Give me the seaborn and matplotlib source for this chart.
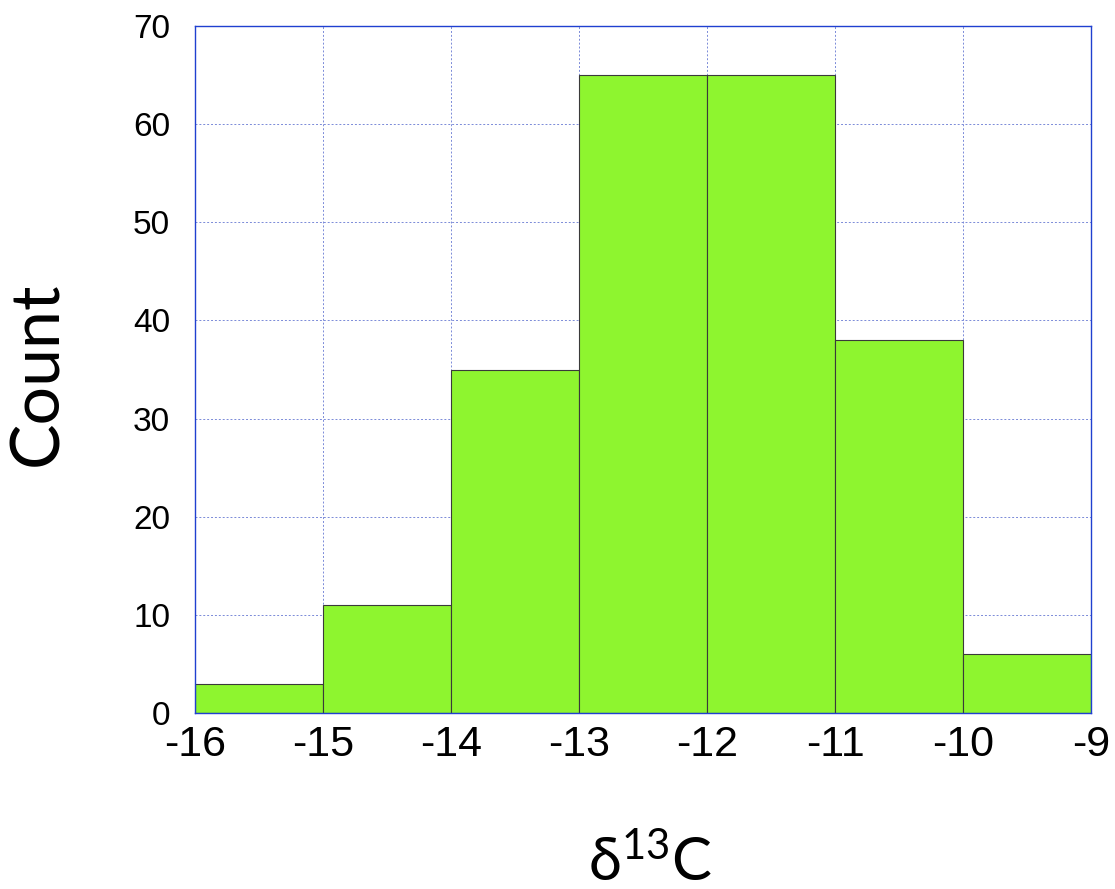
import matplotlib
matplotlib.use("Agg")
import matplotlib.pyplot as plt
import seaborn as sns
import numpy as np

bin_edges = [-16, -15, -14, -13, -12, -11, -10, -9]
bin_centers = [-15.5, -14.5, -13.5, -12.5, -11.5, -10.5, -9.5]
counts = [3, 11, 35, 65, 65, 38, 6]
y_ticks = [0, 10, 20, 30, 40, 50, 60, 70]

sns.set_style("white")
plt.rcParams['font.family'] = ['Liberation Sans', 'DejaVu Sans']
plt.rcParams['mathtext.fontset'] = 'custom'
plt.rcParams['mathtext.rm'] = 'Lato'
plt.rcParams['mathtext.it'] = 'Lato'
plt.rcParams['mathtext.default'] = 'rm'

W, H = 1115, 889
fig = plt.figure(figsize=(W/100, H/100), dpi=100)
ax = fig.add_axes([195/W, 1-713/H, (1091-195)/W, (713-26)/H])

sns.histplot(x=bin_centers, weights=counts, bins=bin_edges, ax=ax,
             color="#8ef52f", alpha=1.0, edgecolor="#3a3a3a", linewidth=0.8)

ax.set_xlim(-16, -9)
ax.set_ylim(0, 70)
ax.set_xticks(bin_edges)
ax.set_xticklabels([str(v) for v in bin_edges], fontsize=31, color="black")
ax.set_yticks(y_ticks)
ax.set_yticklabels([str(v) for v in y_ticks], fontsize=24, color="black")
ax.tick_params(axis='y', length=0, pad=18)
ax.tick_params(axis='x', length=0, pad=9)
ax.grid(True, color="#7a8ad8", linestyle=(0, (2, 2)), linewidth=0.7)
ax.set_axisbelow(True)
for s in ax.spines.values():
    s.set_color("#2040d0")
    s.set_linewidth(1.0)

ax.set_ylabel("")
ax.set_xlabel("")
fig.text(38/W, 1-374/H, "Count", fontsize=49, family=['Lato', 'DejaVu Sans'],
         rotation=90, ha='center', va='center', color="black")
fig.text(650/W, 1-862/H, r"δ$^{13}$C", fontsize=43, family=['Lato', 'DejaVu Sans'],
         ha='center', va='center', color="black")

fig.savefig("out.png", dpi=100)
